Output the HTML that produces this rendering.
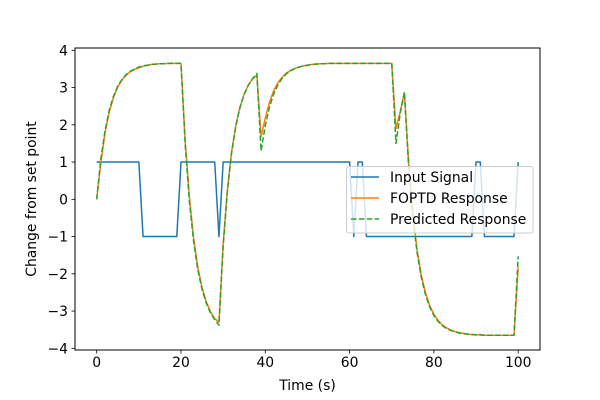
<!DOCTYPE html>
<html><head><meta charset="utf-8"><style>
body{margin:0;background:#fff;}
svg{display:block;font-family:"DejaVu Sans","Liberation Sans",sans-serif;}
</style></head><body>
<svg id="chart" width="600" height="400" viewBox="0 0 600 400">
<rect x="0" y="0" width="600" height="400" fill="#fff"/>
<g id="plot"></g>
</svg>
<script>
const xTicks=[0,20,40,60,80,100];
const yTicks=[-4,-3,-2,-1,0,1,2,3,4];
const inputSignal=[1,1,1,1,1,1,1,1,1,1,1,-1,-1,-1,-1,-1,-1,-1,-1,-1,1,1,1,1,1,1,1,1,1,-1,1,1,1,1,1,1,1,1,1,1,1,1,1,1,1,1,1,1,1,1,1,1,1,1,1,1,1,1,1,1,1,-1,1,1,-1,-1,-1,-1,-1,-1,-1,-1,-1,-1,-1,-1,-1,-1,-1,-1,-1,-1,-1,-1,-1,-1,-1,-1,-1,-1,1,1,-1,-1,-1,-1,-1,-1,-1,-1,1];
const predicted=[0,1.10,1.86,2.40,2.77,3.04,3.22,3.35,3.44,3.50,3.55,3.58,3.60,3.62,3.63,3.64,3.64,3.65,3.65,3.65,3.65,1.46,-0.07,-1.14,-1.90,-2.42,-2.79,-3.05,-3.23,-3.38,-1.26,0.21,1.24,1.96,2.47,2.82,3.07,3.24,3.38,1.30,1.98,2.48,2.83,3.08,3.25,3.37,3.45,3.51,3.55,3.58,3.60,3.62,3.63,3.64,3.64,3.65,3.65,3.65,3.65,3.65,3.65,3.65,3.65,3.65,3.65,3.65,3.65,3.65,3.65,3.65,3.65,1.50,2.30,2.88,0.89,-0.47,-1.42,-2.09,-2.56,-2.89,-3.12,-3.28,-3.39,-3.47,-3.52,-3.56,-3.59,-3.61,-3.62,-3.63,-3.64,-3.64,-3.65,-3.65,-3.65,-3.65,-3.65,-3.65,-3.65,-3.65,-1.53];
const foptd=[0,1.00,1.80,2.35,2.74,3.02,3.20,3.33,3.43,3.49,3.53,3.57,3.60,3.62,3.63,3.64,3.64,3.65,3.65,3.65,3.65,1.55,0.05,-1.05,-1.83,-2.37,-2.75,-3.02,-3.20,-3.30,-1.20,0.25,1.27,1.98,2.48,2.83,3.07,3.24,3.33,1.68,2.18,2.61,2.92,3.13,3.28,3.39,3.46,3.51,3.55,3.58,3.60,3.62,3.63,3.64,3.64,3.65,3.65,3.65,3.65,3.65,3.65,3.65,3.65,3.65,3.65,3.65,3.65,3.65,3.65,3.65,3.65,1.90,2.35,2.85,1.00,-0.38,-1.35,-2.03,-2.51,-2.85,-3.09,-3.25,-3.37,-3.45,-3.51,-3.55,-3.58,-3.60,-3.62,-3.63,-3.64,-3.64,-3.65,-3.65,-3.65,-3.65,-3.65,-3.65,-3.65,-3.65,-1.83];

const NS='http://www.w3.org/2000/svg';
const g=document.getElementById('plot');
const L=75,R=540,T=48,B=350;
const FS='13.9';
function xs(t){return 96.7+t*4.215;}
function ys(v){return 199.3-v*37.25;}
function el(tag,attrs,parent){const e=document.createElementNS(NS,tag);for(const k in attrs)e.setAttribute(k,attrs[k]);(parent||g).appendChild(e);return e;}

const defs=el('defs',{});
const cp=el('clipPath',{id:'clip'},defs);
el('rect',{x:L,y:T,width:R-L,height:B-T},cp);

function series(vals,color,dash,name){
  const pts=vals.map((v,i)=>xs(i).toFixed(2)+','+ys(v).toFixed(2)).join(' ');
  const p=el('polyline',{points:pts,fill:'none',stroke:color,'stroke-width':1.5,'clip-path':'url(#clip)','stroke-linejoin':'round'});
  if(dash)p.setAttribute('stroke-dasharray',dash);
  
  
}
series(inputSignal,'#1f77b4',null,'input-signal-line');
series(foptd,'#ff7f0e',null,'foptd-response-line');
series(predicted,'#2ca02c','5.5,2.4','predicted-response-line');

const frame=el('rect',{x:L,y:T,width:R-L,height:B-T,fill:'none',stroke:'#000','stroke-width':1});



xTicks.forEach(t=>{
  const x=xs(t);
  const tk=el('line',{x1:x,x2:x,y1:B,y2:B+3.5,stroke:'#000','stroke-width':0.8});
  
  
  const tx=el('text',{x:x,y:B+17,'text-anchor':'middle','font-size':FS,fill:'#000'});
  tx.textContent=String(t);
  
  
});
yTicks.forEach(v=>{
  const y=ys(v);
  const tk=el('line',{x1:L-3.5,x2:L,y1:y,y2:y,stroke:'#000','stroke-width':0.8});
  
  
  const tx=el('text',{x:L-7,y:y+5,'text-anchor':'end','font-size':FS,fill:'#000'});
  tx.textContent=v<0?'\u2212'+Math.abs(v):String(v);
  
  
});
const xl=el('text',{x:(L+R)/2,y:390,'text-anchor':'middle','font-size':FS,fill:'#000'});
xl.textContent='Time (s)';


const yl=el('text',{x:0,y:0,'text-anchor':'middle','font-size':FS,fill:'#000',transform:'translate(36,199) rotate(-90)'});
yl.textContent='Change from set point';



const lg=el('g',{});


el('rect',{x:346.5,y:166.5,width:186.5,height:66.5,rx:2.5,fill:'#fff','fill-opacity':0.8,stroke:'#cccccc','stroke-width':1},lg);
const entries=[['Input Signal','#1f77b4',null],['FOPTD Response','#ff7f0e',null],['Predicted Response','#2ca02c','5.5,2.4']];
entries.forEach((e,i)=>{
  const y=177+i*21;
  const eg=el('g',{},lg);
  
  
  const ln=el('line',{x1:351,x2:379,y1:y,y2:y,stroke:e[1],'stroke-width':1.5},eg);
  if(e[2])ln.setAttribute('stroke-dasharray',e[2]);
  const tx=el('text',{x:390,y:y+5,'font-size':FS,fill:'#000'},eg);
  tx.textContent=e[0];
});
</script>
</body></html>
